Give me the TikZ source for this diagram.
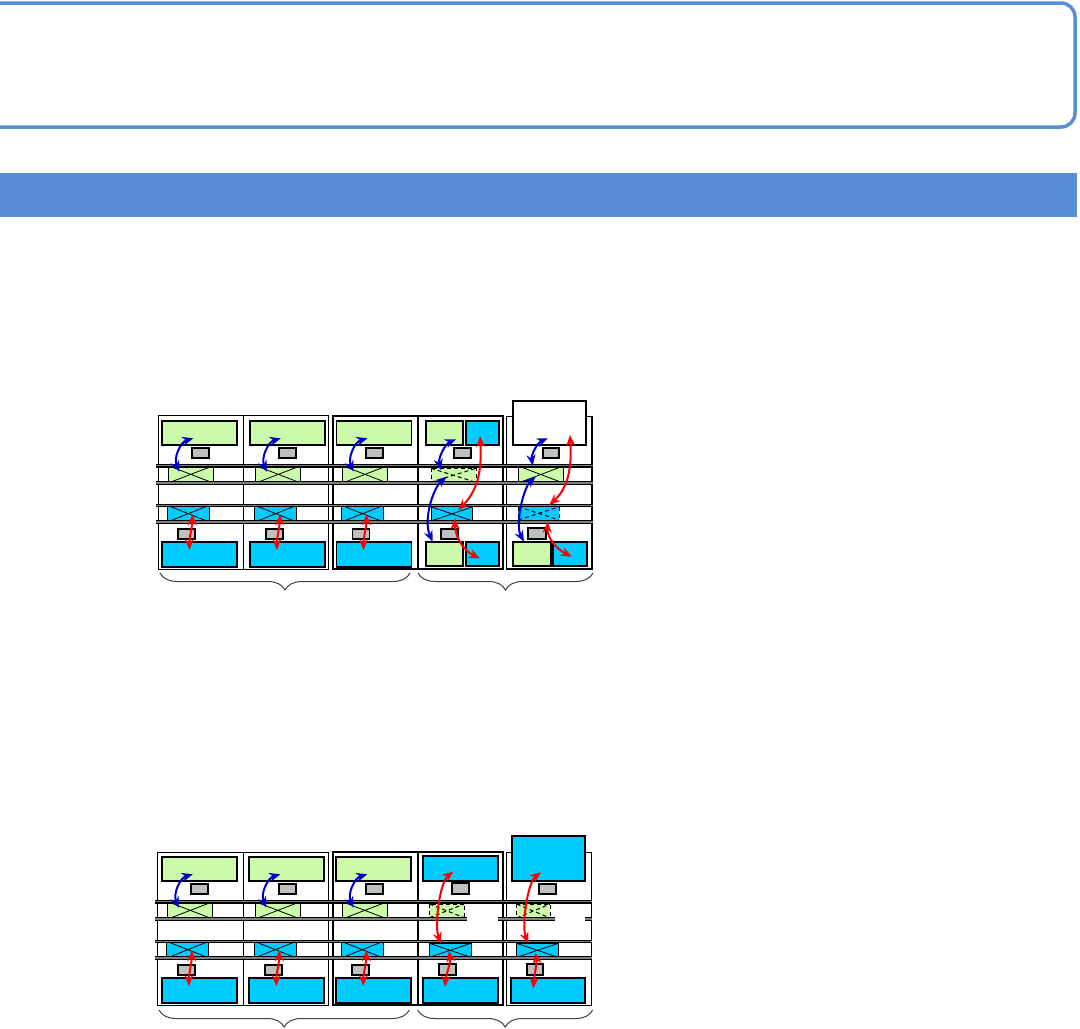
\documentclass[tikz,border=0pt]{standalone}
\usetikzlibrary{arrows.meta,decorations.pathreplacing}
\definecolor{hdr}{HTML}{558ED5}
\definecolor{lgreen}{RGB}{204,250,170}
\definecolor{cyanbox}{HTML}{00CCFF}
\definecolor{grybox}{HTML}{C0C0C0}
\definecolor{arrblue}{HTML}{0000CC}
\definecolor{arrred}{HTML}{FF0000}
\tikzset{
  cellbox/.style={draw=black, line width=0.5pt},
  thickcell/.style={draw=black, line width=1pt},
  gbox/.style={draw=black, fill=lgreen, line width=0.9pt},
  cbox/.style={draw=black, fill=cyanbox, line width=0.9pt},
  graybox/.style={draw=black, fill=grybox, line width=0.9pt},
  wbox/.style={draw=black, fill=white, line width=0.9pt},
  xgreen/.style={draw=black, fill=lgreen, line width=0.4pt},
  xcyan/.style={draw=black, fill=cyanbox, line width=0.4pt},
  dgreen/.style={draw=black, fill=lgreen, line width=0.5pt, dash pattern=on 2pt off 1.5pt},
  dcyan/.style={draw=black, fill=cyanbox, line width=0.5pt, dash pattern=on 2pt off 1.5pt},
  rail/.style={draw=black, line width=0.6pt, double=gray, double distance=0.6pt},
  barr/.style={draw=arrblue, line width=1pt, {Stealth[length=5.5pt,width=4.5pt]}-{Stealth[length=5.5pt,width=4.5pt]}},
  rarr/.style={draw=arrred, line width=1pt, {Stealth[length=5.5pt,width=4.5pt]}-{Stealth[length=5.5pt,width=4.5pt]}},
  bracestyle/.style={draw=black!75, line width=0.5pt, decorate, decoration={brace, amplitude=8.5pt, mirror}},
}
% crossed rectangle: style, x1, y1, x2, y2
\newcommand\xrect[5]{\draw[#1] (#2,#3) rectangle (#4,#5); \draw[#1, fill=none] (#2,#3) -- (#4,#5) (#2,#5) -- (#4,#3);}
% standard cell contents, content base x
\newcommand\stdcell[1]{%
  \draw[gbox] (#1+4,420.7) rectangle (#1+79,445);
  \draw[graybox] (#1+33.5,448) rectangle (#1+50.5,458.3);
  \xrect{xgreen}{#1+10}{465.7}{#1+55}{483}
  \xrect{xcyan}{#1+9}{505.3}{#1+51}{522}
  \draw[graybox] (#1+20,529.3) rectangle (#1+37,539);
  \draw[cbox] (#1+4,542.3) rectangle (#1+79,566.7);
}
\newcommand\stdarrows[1]{%
  \draw[barr] (#1+35,438.3) .. controls (#1+22,442) and (#1+15,458) .. (#1+21,471.7);
  \draw[rarr] (#1+34,514.3) .. controls (#1+34,526) and (#1+31,538) .. (#1+31,550);
}
\newcommand\railset[2]{%
  \draw[rail] (#1,465.7) -- (#2,465.7);
  \draw[rail] (#1,483) -- (#2,483);
  \draw[rail] (#1,505.3) -- (#2,505.3);
  \draw[rail] (#1,522) -- (#2,522);
}
\begin{document}
\begin{tikzpicture}[x=0.5pt,y=-0.5pt]
\useasboundingbox (0,0) rectangle (1080,1028);
% header frame and bar
\draw[draw=hdr, line width=1.75pt, rounded corners=7pt] (-30,3) rectangle (1075,127);
\fill[hdr] (0,173) rectangle (1077,217);

% ================= Diagram 1 =================
\draw[cellbox] (158,415.5) rectangle (243.5,569);
\draw[cellbox] (243.5,415.5) rectangle (328.5,569);
\draw[thickcell] (332.5,415.5) rectangle (417.5,569);
\draw[thickcell] (417.5,416) rectangle (503,568.5);
\draw[cellbox, line width=0.75pt] (506.7,416.7) rectangle (592,569);
\stdcell{158.3}
\stdcell{245.8}
\stdcell{332.5}
% cell 4
\draw[gbox] (425.7,420.7) rectangle (463.3,445);
\draw[cbox] (465.7,420.7) rectangle (499.3,445);
\draw[graybox] (454.3,448.3) rectangle (471.3,458);
\xrect{dgreen}{431}{468.3}{476}{482.3}
\xrect{xcyan}{431}{506.7}{472.7}{521}
\draw[graybox] (441,529.3) rectangle (457.7,538.7);
\draw[gbox] (425.7,542.3) rectangle (463.3,566);
\draw[cbox] (465.7,542.3) rectangle (499.3,566);
% cell 5
\draw[graybox] (542.7,448.3) rectangle (559,458.3);
\xrect{xgreen}{518.3}{466}{563.3}{483}
\xrect{dcyan}{518.3}{506.7}{559.3}{520}
\draw[graybox] (528.3,528.3) rectangle (545.7,539);
\draw[gbox] (513.3,542.3) rectangle (550.7,566);
\draw[cbox] (553.3,542.3) rectangle (587.3,566);
\railset{156}{593}
\draw[wbox] (513.3,400.7) rectangle (586,445);
% arrows
\stdarrows{158.3}
\stdarrows{245.8}
\stdarrows{332.5}
\draw[barr] (456,439.3) .. controls (445,444) and (438,458) .. (440.7,470);
\draw[barr] (446.7,476.7) .. controls (433,488) and (423,520) .. (432.7,541.7);
\draw[rarr] (480,436) .. controls (482,470) and (478,490) .. (458.3,510);
\draw[rarr] (455,518.3) .. controls (455,535) and (462,550) .. (480,558.3);
\draw[barr] (547.7,438.3) .. controls (537,443) and (531,455) .. (532.7,465.7);
\draw[barr] (535.7,476.7) .. controls (523,488) and (515,525) .. (524,541.7);
\draw[rarr] (570,435) .. controls (572,468) and (568,488) .. (549.3,505);
\draw[rarr] (547.7,521.7) .. controls (547,537) and (555,548) .. (571.7,556.7);
% braces
\draw[bracestyle] (160,573) -- (410,573);
\draw[bracestyle] (418,573) -- (593,573);

% ================= Diagram 2 =================
\begin{scope}[shift={(0,436)}]
\draw[cellbox] (157.5,416.5) rectangle (243,569);
\draw[cellbox] (243,416.5) rectangle (328,569);
\draw[thickcell] (332.5,415.5) rectangle (417.5,569);
\draw[thickcell] (417.5,416) rectangle (502.7,569);
\draw[cellbox] (506.7,416.7) rectangle (591.7,569);
\stdcell{157.8}
\stdcell{245.3}
\stdcell{332.3}
\end{scope}
% cell 4
\draw[cbox] (423.3,856) rectangle (498.3,880.7);
\draw[graybox] (452.3,883.3) rectangle (469.3,894.3);
\xrect{dgreen}{429.3}{904}{464.3}{917.7}
\xrect{xcyan}{429.3}{943.3}{471}{957.3}
\draw[graybox] (439.3,964.3) rectangle (456,975);
\draw[cbox] (423.3,978.3) rectangle (498.3,1002.7);
% cell 5
\draw[graybox] (539.3,884.3) rectangle (556,894.3);
\xrect{dgreen}{516.7}{904}{550}{918}
\xrect{xcyan}{516.7}{943.3}{558.3}{957.3}
\draw[graybox] (526.7,964.3) rectangle (543.3,975);
\draw[cbox] (510.7,978.3) rectangle (585,1002.7);
\begin{scope}[shift={(0,436)}]
\railset{155}{592}
\end{scope}
\fill[white] (466.7,916.6) rectangle (498.3,921.4);
\fill[white] (555,916.6) rectangle (585,921.4);
\draw[cbox] (511.7,835.7) rectangle (585,880.7);
\begin{scope}[shift={(0,436)}]
\stdarrows{157.8}
\stdarrows{245.3}
\stdarrows{332.3}
\end{scope}
\draw[rarr] (453.3,871.7) .. controls (440,882) and (434,925) .. (441,943.3);
\draw[rarr] (449,951) .. controls (451,962) and (446,975) .. (445,986.7);
\draw[rarr] (541,872.3) .. controls (528,882) and (521,925) .. (528.3,943.3);
\draw[rarr] (535.7,952.7) .. controls (537,963) and (534,978) .. (533.3,988.3);
\draw[bracestyle] (159,1010) -- (409.3,1010);
\draw[bracestyle] (417.7,1010) -- (592.7,1010);
\end{tikzpicture}
\end{document}
